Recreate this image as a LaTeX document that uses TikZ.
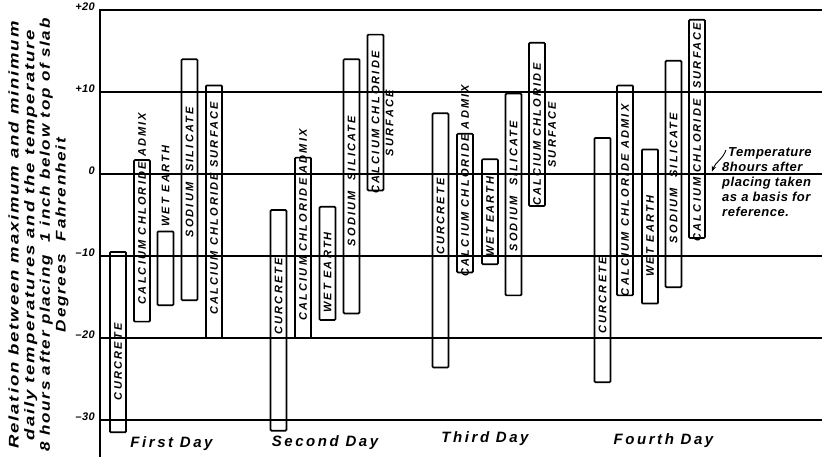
\documentclass[tikz,border=0pt]{standalone}
\usepackage{fontspec}
\usepackage{graphicx}
\setmainfont{Liberation Sans}
\newfontfamily\barfont[LetterSpace=20]{Liberation Sans}
\newfontfamily\dayfont[LetterSpace=17]{Liberation Sans}
\newfontfamily\axisfont[LetterSpace=10]{Liberation Sans}
\newfontfamily\notefont[LetterSpace=4]{Liberation Sans}
\newcommand{\axline}[2]{\resizebox{#1}{\height}{#2}}
\usetikzlibrary{positioning,arrows.meta}
\tikzset{
  gridline/.style={line width=1.5pt},
  axisline/.style={line width=2.6pt},
  slab/.style={draw,line width=1.7pt,rounded corners=1pt},
  slabtxt/.style={rotate=90,inner sep=0pt,font=\barfont\bfseries\itshape\fontsize{11}{13}\selectfont},
  daytxt/.style={anchor=base,inner sep=0pt,font=\dayfont\bfseries\itshape\fontsize{15}{18}\selectfont},
  ticklbl/.style={anchor=east,inner sep=0pt,font=\notefont\bfseries\itshape\fontsize{11}{12}\selectfont},
  ptr/.style={-{Stealth[length=2mm,width=1.6mm]},line width=0.9pt}
}

\begin{document}
\begin{tikzpicture}[x=1pt,y=8.2pt]
\useasboundingbox (0,21.22) rectangle (822,-34.51);
\draw[axisline] (100,20) -- (822,20);
\foreach \v in {10,0,-10,-20,-30} \draw[gridline] (100,\v) -- (822,\v);
\draw[axisline] (100,20.15) -- (100,-34.51);
\foreach \v/\t [count=\k] in {20/+20,10/+10,0/0,-10/–10,-20/–20,-30/–30}
  \node[ticklbl] (tick\k) at (95,\v+0.4) {\t};
\node[rotate=90,align=center,inner sep=0pt,font=\axisfont\bfseries\itshape\fontsize{14}{15.6}\selectfont] (ylabel) at (38.5,-7.44)
  {\axline{427pt}{Relation between maximum and minimum}\\
   \axline{410pt}{daily temperatures and the temperature}\\
   \axline{433pt}{8 hours after placing\ \ 1 inch below top of slab}\\
   \axline{194pt}{Degrees\ \ Fahrenheit}};
% bars: centre / min / max / label centre / label
\foreach \c/\lo/\hi/\m/\txt [count=\i] in {
  118/-31.5/-9.5/-22.9/CURCRETE, 142/-18/1.7/-4.2/CALCIUM CHLORIDE ADMIX,
  165.5/-16/-7/-1.5/WET EARTH, 189.5/-15.4/14/0.2/SODIUM\ \ SILICATE,
  214/-20/10.8/-4.2/CALCIUM CHLORIDE SURFACE,
  278.5/-31.3/-4.4/-14.9/CURCRETE, 303/-20/2/-6.2/CALCIUM CHLORIDE ADMIX,
  327.5/-17.8/-4/-12/WET EARTH, 351.5/-17/14/-0.85/SODIUM\ \ SILICATE,
  375.5/-2/17/6.3/CALCIUM CHLORIDE,
  440.5/-23.6/7.4/-5.2/CURCRETE, 465/-12/4.9/-0.8/CALCIUM CHLORIDE ADMIX,
  490/-11/1.8/-5.2/WET EARTH, 513.5/-14.8/9.8/-1.5/SODIUM\ \ SILICATE,
  537/-3.9/16/4.8/CALCIUM CHLORIDE,
  602.5/-25.4/4.4/-14.8/CURCRETE, 625/-14.8/10.8/-3.2/CALCIUM CHLORIDE ADMIX,
  650/-15.8/3/-7.6/WET EARTH, 673.5/-13.8/13.8/-0.5/SODIUM\ \ SILICATE,
  697/-7.8/18.8/5.1/CALCIUM CHLORIDE\ \ SURFACE}
{
  \draw[slab] (\c-8,\lo) rectangle (\c+8,\hi);
  \node[slabtxt] (bar\i) at (\c,\m) {\txt};
}
\node[slabtxt] (surf2) at (389.5,6.2) {SURFACE};
\node[slabtxt] (surf3) at (552,4.8) {SURFACE};
\node[daytxt] (day1) at (171.5,-33.41) {First Day};
\node[daytxt] (day2) at (325,-33.17) {Second Day};
\node[daytxt] (day3) at (485,-32.80) {Third Day};
\node[daytxt] (day4) at (663.5,-32.93) {Fourth Day};
\node[anchor=north west,align=left,inner sep=0pt,font=\notefont\bfseries\itshape\fontsize{13}{15}\selectfont] (note) at (722,3.29)
  {\hspace*{6pt}Temperature\\8hours after\\placing taken\\as a basis for\\reference.};
\coordinate (zeroref) at (712,0.3);
\draw[ptr] ([xshift=4pt,yshift=-3pt]note.north west) to[out=-110,in=70] (zeroref);
\end{tikzpicture}
\end{document}
